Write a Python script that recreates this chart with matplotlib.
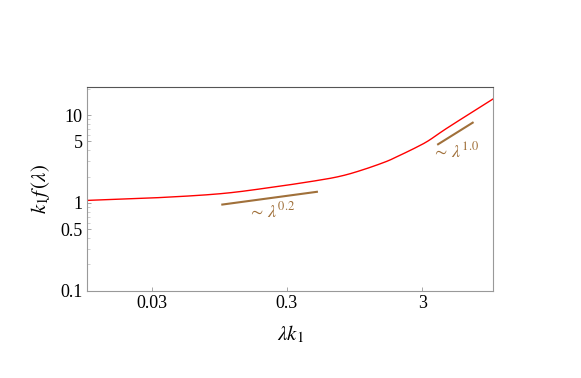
import numpy as np
import matplotlib.pyplot as plt
from matplotlib.ticker import FixedLocator, NullFormatter

plt.rcParams['font.family'] = ['Liberation Serif', 'DejaVu Serif']
plt.rcParams['mathtext.fontset'] = 'stix'

# === Data ===
lam_k1 = [0.01, 0.03, 0.094, 0.22, 0.49, 0.75, 1.08, 1.61, 2.0, 2.6, 3.3, 4.45, 7.03, 10.0]
k1_f = [1.07, 1.14, 1.27, 1.49, 1.79, 2.02, 2.37, 2.94, 3.42, 4.15, 5.05, 6.9, 10.8, 15.2]

slope_lo_x = [0.1, 0.5]
slope_lo_y = [0.96, 1.34]
slope_hi_x = [3.93, 7.08]
slope_hi_y = [4.65, 8.18]

x_ticks = [0.03, 0.3, 3]
x_ticklabels = ['0.03', '0.3', '3']
y_ticks = [0.1, 0.5, 1, 5, 10]
y_ticklabels = ['0.1', '0.5', '1', '5', '10']
y_minor = [0.2, 0.3, 0.4, 0.6, 0.7, 0.8, 0.9, 2, 3, 4, 6, 7, 8, 9, 20]

brown = '#a0703a'


def catmull_rom(x, y, n=40):
    # smooth line through the points (used in log-log space)
    x = np.asarray(x, float)
    y = np.asarray(y, float)
    px = np.concatenate([[2 * x[0] - x[1]], x, [2 * x[-1] - x[-2]]])
    py = np.concatenate([[2 * y[0] - y[1]], y, [2 * y[-1] - y[-2]]])
    out_x, out_y = [], []
    t = np.linspace(0, 1, n, endpoint=False)
    for i in range(1, len(px) - 2):
        for arr, out in ((px, out_x), (py, out_y)):
            p0, p1, p2, p3 = arr[i - 1], arr[i], arr[i + 1], arr[i + 2]
            out.append(0.5 * (2 * p1 + (-p0 + p2) * t
                              + (2 * p0 - 5 * p1 + 4 * p2 - p3) * t ** 2
                              + (-p0 + 3 * p1 - 3 * p2 + p3) * t ** 3))
    out_x = np.concatenate(out_x + [[x[-1]]])
    out_y = np.concatenate(out_y + [[y[-1]]])
    return out_x, out_y


fig = plt.figure(figsize=(5.81, 3.78), dpi=100)
ax = fig.add_axes([0.1497, 0.2302, 0.6988, 0.5396])

xs, ys = catmull_rom(np.log10(lam_k1), np.log10(k1_f))
ax.plot(10 ** xs, 10 ** ys, color='red', lw=1.0)

ax.plot(slope_lo_x, slope_lo_y, color=brown, lw=1.5)
ax.plot(slope_hi_x, slope_hi_y, color=brown, lw=1.5)
ax.text(0.23, 0.80, r'$\sim\,\lambda^{0.2}$', color=brown, fontsize=13, ha='center', va='center')
ax.text(5.3, 3.9, r'$\sim\,\lambda^{1.0}$', color=brown, fontsize=13, ha='center', va='center')

ax.set_xscale('log')
ax.set_yscale('log')
ax.set_xlim(0.01, 10)
ax.set_ylim(0.1, 20.8)

ax.xaxis.set_major_locator(FixedLocator(x_ticks))
ax.set_xticklabels(x_ticklabels)
ax.xaxis.set_minor_locator(FixedLocator([]))
ax.yaxis.set_major_locator(FixedLocator(y_ticks))
ax.set_yticklabels(y_ticklabels)
ax.yaxis.set_minor_locator(FixedLocator(y_minor))
ax.yaxis.set_minor_formatter(NullFormatter())

ax.tick_params(which='major', direction='in', length=3, width=0.6, color='#999999', labelsize=13, pad=3)
ax.tick_params(which='minor', direction='in', length=2, width=0.5, color='#bbbbbb')
for side in ['left', 'bottom', 'right']:
    ax.spines[side].set_color('#999999')
ax.spines['top'].set_color('#555555')

ax.set_xlabel(r'$\lambda k_1$', fontsize=15, labelpad=8)
ax.set_ylabel(r'$k_1 f\,(\lambda)$', fontsize=15, labelpad=6)

fig.savefig('out.png', dpi=100)
